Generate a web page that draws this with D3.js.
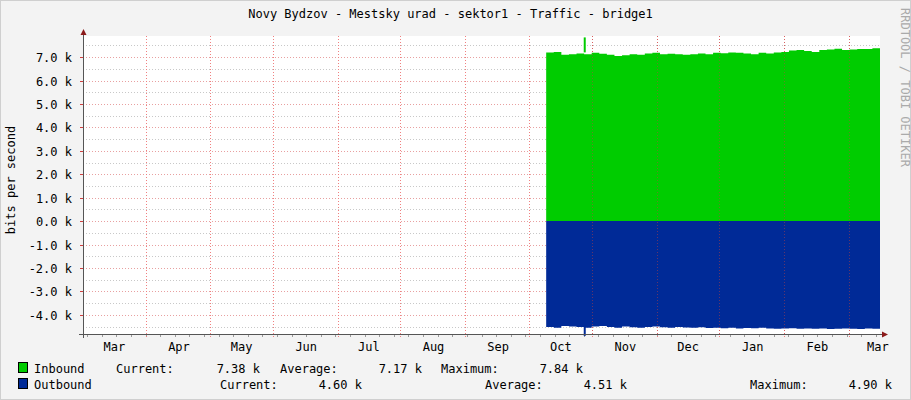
<!DOCTYPE html><html><head><meta charset="utf-8">
<script src="https://cdn.jsdelivr.net/npm/d3@7"></script>
<style>body{margin:0;background:#f3f3f3}svg{display:block}text{font-family:"DejaVu Sans Mono",monospace;font-size:12px;fill:#000}</style></head><body>
<script>
const title="Novy Bydzov - Mestsky urad - sektor1 - Traffic - bridge1";
const months=["Mar","Apr","May","Jun","Jul","Aug","Sep","Oct","Nov","Dec","Jan","Feb","Mar"];
const yTicks=[-4,-3,-2,-1,0,1,2,3,4,5,6,7];
const inbound=[7.20,7.22,7.10,7.12,7.15,7.12,7.18,7.14,7.10,7.05,7.08,7.12,7.10,7.15,7.18,7.12,7.14,7.12,7.10,7.12,7.15,7.12,7.18,7.16,7.20,7.18,7.15,7.12,7.18,7.15,7.20,7.22,7.28,7.30,7.26,7.22,7.30,7.32,7.36,7.30,7.32,7.35,7.34,7.38];
const outbound=[4.52,4.55,4.48,4.50,4.52,4.55,4.50,4.48,4.52,4.55,4.50,4.53,4.55,4.52,4.50,4.53,4.55,4.52,4.54,4.55,4.53,4.56,4.55,4.57,4.55,4.58,4.56,4.57,4.55,4.58,4.60,4.58,4.57,4.60,4.58,4.60,4.59,4.61,4.60,4.58,4.60,4.61,4.59,4.60];
const spikeIn=7.84, spikeOut=4.90;
const legend=[["Inbound","#00cc00","Current:","7.38 k","Average:","7.17 k","Maximum:","7.84 k"],["Outbound","#002a97","Current:","4.60 k","Average:","4.51 k","Maximum:","4.90 k"]];

const W=911,H=400,L=83,R=880,T=36,B=334;
const svg=d3.select("body").append("svg").attr("width",W).attr("height",H);
svg.append("rect").attr("x",0.5).attr("y",0.5).attr("width",W-1).attr("height",H-1).attr("fill","#f3f3f3").attr("stroke","#cfcfcf");
svg.append("rect").attr("x",L).attr("y",T).attr("width",R-L).attr("height",B-T).attr("fill","#fff");
const x=d3.scaleTime().domain([new Date(2015,1,14),new Date(2016,2,2)]).range([L,R]);
const y=d3.scaleLinear().domain([-4.82,7.9]).range([B,T]);
const g=svg.append("g");
d3.range(-4.5,7.6,0.5).forEach(v=>{g.append("line").attr("x1",L).attr("x2",R).attr("y1",Math.round(y(v))+0.5).attr("y2",Math.round(y(v))+0.5).attr("stroke",Number.isInteger(v)?"#e8a0a0":"#c8c8c8").attr("stroke-dasharray","1,2");});
const weeks=d3.timeMonday.range(x.domain()[0],x.domain()[1]);
weeks.forEach(d=>{const xx=Math.round(x(d))+0.5;g.append("line").attr("x1",xx).attr("x2",xx).attr("y1",B).attr("y2",B+3).attr("stroke","#999");});
const mids=d3.range(0,12).map(i=>new Date(2015,2+i,16));
mids.forEach(d=>{const xx=Math.round(x(d))+0.5;g.append("line").attr("x1",xx).attr("x2",xx).attr("y1",T).attr("y2",B+3).attr("stroke","#f08080").attr("stroke-dasharray","1,2");});
const start=new Date(2015,8,24), end=new Date(2016,2,2);
const stepMs=(end-start)/inbound.length;
const pts=inbound.map((v,i)=>({d:new Date(+start+i*stepMs),i:v,o:outbound[i]}));
pts.push({d:end,i:inbound[inbound.length-1],o:outbound[outbound.length-1]});
const area=(f)=>d3.area().curve(d3.curveStepAfter).x(d=>x(d.d)).y0(y(0)).y1(f);
svg.append("path").datum(pts).attr("fill","#00cc00").attr("d",area(d=>y(d.i)));
svg.append("path").datum(pts).attr("fill","#002a97").attr("d",area(d=>y(-d.o)));
const sx=x(new Date(2015,9,12));
svg.append("rect").attr("x",sx).attr("width",2).attr("y",y(spikeIn)).attr("height",y(7.2)-y(spikeIn)).attr("fill","#00cc00");
svg.append("rect").attr("x",sx).attr("width",2).attr("y",y(-4.5)).attr("height",y(-spikeOut)-y(-4.5)).attr("fill","#002a97");
mids.forEach(d=>{const xx=Math.round(x(d))+0.5;if(xx<547)return;svg.append("line").attr("x1",xx).attr("x2",xx).attr("y1",T).attr("y2",B).attr("stroke","#c04040").attr("stroke-opacity",0.5).attr("stroke-dasharray","1,2");});
svg.append("line").attr("x1",L+0.5).attr("x2",L+0.5).attr("y1",B+4).attr("y2",T-6).attr("stroke","#555");
svg.append("line").attr("x1",L-4).attr("x2",R+2).attr("y1",B+0.5).attr("y2",B+0.5).attr("stroke","#555");
svg.append("path").attr("d",`M${L-2.5},${T-1}L${L+0.5},${T-7}L${L+3.5},${T-1}Z`).attr("fill","#8b1a1a");
svg.append("path").attr("d",`M${R+2},${B-2.5}L${R+8},${B+0.5}L${R+2},${B+3.5}Z`).attr("fill","#8b1a1a");
yTicks.forEach(v=>{const yy=Math.round(y(v))+0.5;svg.append("line").attr("x1",L-3).attr("x2",L).attr("y1",yy).attr("y2",yy).attr("stroke","#d04040");
svg.append("text").attr("x",L-11).attr("y",yy+4).attr("text-anchor","end").attr("font-size","13px").text(v.toFixed(1)+" k");});
months.forEach((m,i)=>{const d=new Date(2015,2+i,1);svg.append("text").attr("x",x(d)).attr("y",B+17).attr("text-anchor","middle").attr("font-size","12px").text(m);});
svg.append("text").attr("x",W/2-5).attr("y",18).attr("text-anchor","middle").attr("font-size","12px").text(title);
svg.append("text").attr("transform",`translate(15,${(T+B)/2-5}) rotate(-90)`).attr("text-anchor","middle").attr("font-size","13px").text("bits per second");
svg.append("text").attr("transform",`translate(901,8) rotate(90)`).attr("font-size","8px").style("fill","#aaa").text("RRDTOOL / TOBI OETIKER");
const lx=[[34,116,260,280,422,441,583],[34,220,362,485,627,750,892]];
legend.forEach((r,k)=>{const yy=373+k*16;svg.append("rect").attr("x",18.5).attr("y",yy-10.5).attr("width",9).attr("height",10).attr("fill",r[1]).attr("stroke","#000");
const p=lx[k];
svg.append("text").attr("x",p[0]).attr("y",yy).text(r[0]);
for(let c=2;c<8;c++){svg.append("text").attr("x",p[c-1]).attr("y",yy).attr("text-anchor",c%2?"end":"start").text(r[c]);}});
</script></body></html>
